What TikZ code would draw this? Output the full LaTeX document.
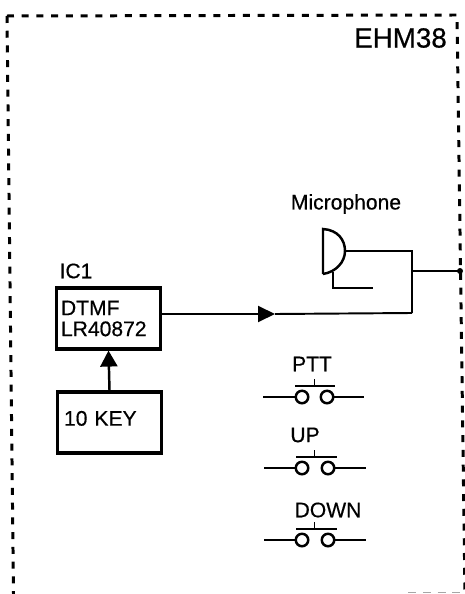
\documentclass[tikz,border=0pt]{standalone}
\usepackage{fontspec}
\setmainfont{Liberation Sans}[FakeBold=0.5]
\usetikzlibrary{arrows.meta}
\tikzset{
  frameline/.style={line width=1.7pt, dash pattern=on 0.14cm off 0.155cm},
  wire/.style={line width=1.1pt},
  icbox/.style={draw, line width=1.8pt, inner sep=0pt, minimum width=2.08cm, align=left, text width=1.9cm, font=\fontsize{12}{11.9}\selectfont},
  lbl/.style={inner sep=0pt, font=\fontsize{12}{14}\selectfont},
  contact/.style={draw, circle, line width=1.4pt, minimum size=0.25cm, inner sep=0pt},
}
\begin{document}
\begin{tikzpicture}[x=0.02cm, y=-0.02cm]
  \useasboundingbox (0,0) rectangle (465,594);
  % frame
  \coordinate (tl) at (7,16);
  \coordinate (tr) at (457,15);
  \coordinate (br) at (465,594);
  \coordinate (bl) at (13.5,594);
  \draw[frameline] (tl) -- (tr) -- (br);
  \draw[frameline] (tl) -- (bl);
  \draw[gray!70, line width=0.5pt, dash pattern=on 0.16cm off 0.135cm] (408,592.5) -- (463,592.5);
  \node[lbl, font=\fontsize{15.8}{18}\selectfont] (title) at (400.5,38) {EHM38};

  % IC1 and keypad
  \node[icbox, minimum height=1.22cm] (dtmf) at (108.5,318.5) {DTMF\\LR40872};
  \node[lbl] (iclabel) at (76,271) {IC1};
  \node[icbox, minimum height=1.22cm, text height=9pt, text depth=5.4pt, text width=1.82cm] (tenkey) at (109.5,422.5) {10 KEY};
  \draw[wire, line width=1.4pt, -{Triangle[length=0.32cm, width=0.34cm]}] (tenkey.north) -- (dtmf.south);

  % microphone
  \node[lbl] (miclabel) at (346,204) {Microphone};
  \coordinate (micback) at (323,229);
  \coordinate (micfoot) at (323,274);
  \coordinate (micout) at (345,251);
  \coordinate (micstem) at (333,272);
  \coordinate (jtop) at (412,251);
  \coordinate (jmid) at (412,271);
  \coordinate (jbot) at (412,313);
  \coordinate (mictab) at (373,288);
  \coordinate (exit) at (460,271);
  \draw[wire, line width=1.4pt] (micfoot) -- (micback) .. controls (338,230) and (345,240) .. (micout) .. controls (345,262) and (336,272) .. (micfoot);
  \draw[wire] (micout) -- (jtop) -- (jbot);
  \draw[wire] (micstem) -- (333,288) -- (mictab);
  \draw[wire] (jmid) -- (exit);
  \fill (exit) circle (0.06cm);
  \coordinate (tip) at (275,314);
  \draw[wire, -{Triangle[length=0.34cm, width=0.32cm]}] ([yshift=0.09cm]dtmf.east) -- (tip);
  \draw[wire] (tip) -- (jbot);

  % switches
  \foreach \sw/\txt/\tx/\ty/\swy/\swa in {ptt/PTT/312/364/397/0, up/UP/305/435/468/1, down/DOWN/328/510/540/1}{
    \node[lbl] (\sw label) at (\tx,\ty) {\txt};
    \node[contact] (\sw l) at (302,\swy) {};
    \node[contact] (\sw r) at (327+\swa,\swy) {};
    \coordinate (\sw a) at (263+\swa,\swy);
    \coordinate (\sw b) at (364+\swa*2,\swy);
    \coordinate (\sw c) at (295+\swa,\swy-11);
    \coordinate (\sw d) at (335+\swa*2,\swy-11);
    \coordinate (\sw e) at (314.5,\swy-11);
    \coordinate (\sw f) at (314.5,\swy-18);
    \draw[wire] (\sw a) -- (\sw l);
    \draw[wire] (\sw r) -- (\sw b);
    \draw[wire] (\sw c) -- (\sw d);
    \draw[wire] (\sw e) -- (\sw f);
  }
\end{tikzpicture}
\end{document}
